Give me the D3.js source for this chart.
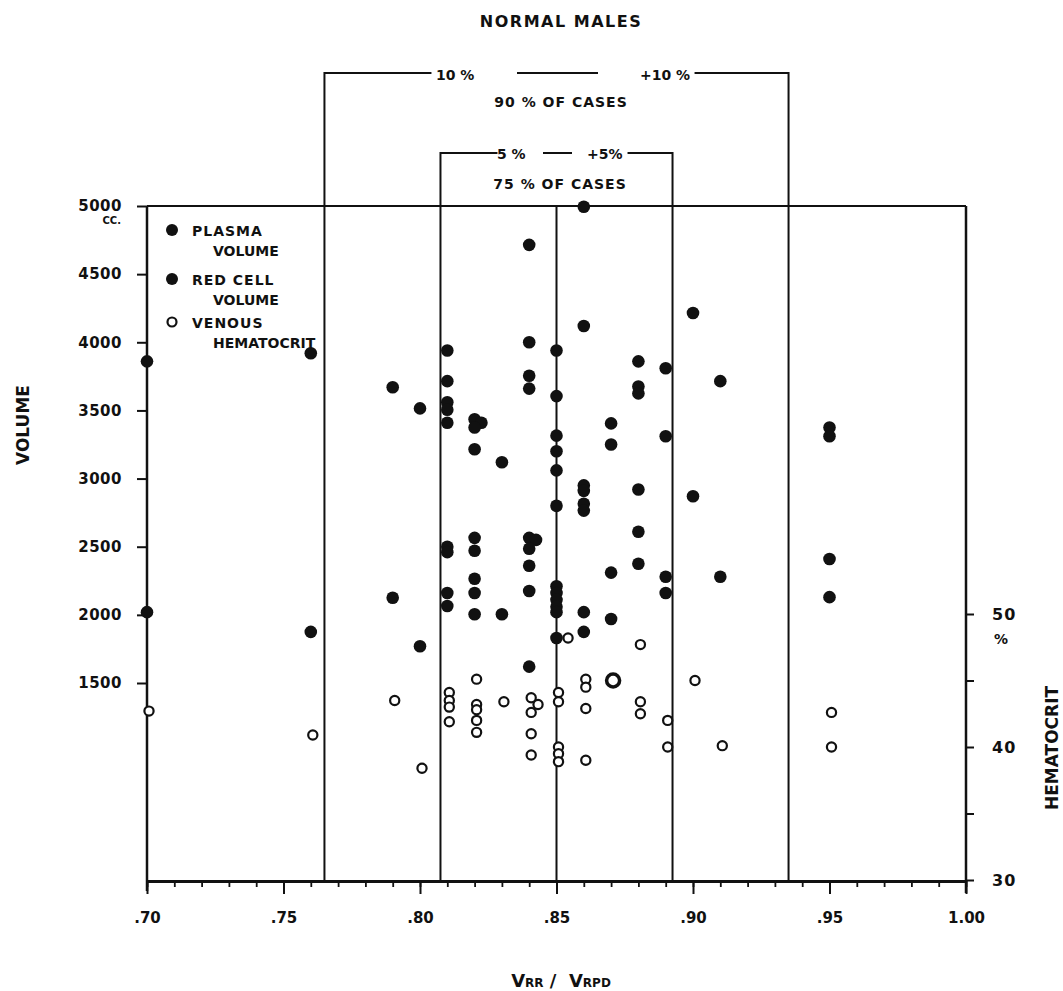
<!DOCTYPE html>
<html>
<head>
<meta charset="utf-8">
<script src="https://cdn.jsdelivr.net/npm/d3@7"></script>
<style>
  body { margin: 0; background: #fff; }
  text { font-family: "DejaVu Sans", sans-serif; font-weight: bold; fill: #111; }
</style>
</head>
<body>
<div id="container"></div>
<script>
var width = 1063;
var height = 991;

// x = Vrr / Vrpd ratio, y = volume (cc) or hematocrit (%)
var plasmaVolume = [
  [.70, 3860], [.76, 3920], [.79, 3670], [.80, 3515],
  [.81, 3940], [.81, 3715], [.81, 3560], [.81, 3505], [.81, 3410],
  [.82, 3435], [.8225, 3410], [.82, 3375], [.82, 3215],
  [.83, 3120],
  [.84, 4715], [.84, 4000], [.84, 3755], [.84, 3660],
  [.85, 3940], [.85, 3605], [.85, 3315], [.85, 3200], [.85, 3060], [.85, 2800],
  [.86, 4995], [.86, 4120], [.86, 2950], [.86, 2910], [.86, 2815], [.86, 2765],
  [.87, 3405], [.87, 3250],
  [.88, 3860], [.88, 3675], [.88, 3625], [.88, 2920],
  [.89, 3810], [.89, 3310],
  [.90, 4215], [.90, 2870],
  [.91, 3715],
  [.95, 3375], [.95, 3310]
];

var redCellVolume = [
  [.70, 2020], [.76, 1875], [.79, 2125], [.80, 1770],
  [.81, 2500], [.81, 2460], [.81, 2160], [.81, 2065],
  [.82, 2565], [.82, 2470], [.82, 2265], [.82, 2160], [.82, 2005],
  [.83, 2005],
  [.84, 2565], [.8425, 2550], [.84, 2485], [.84, 2360], [.84, 2175], [.84, 1620],
  [.85, 2210], [.85, 2160], [.85, 2110], [.85, 2060], [.85, 2020], [.85, 1830],
  [.86, 2020], [.86, 1875],
  [.87, 2310], [.87, 1970],
  [.88, 2610], [.88, 2375],
  [.89, 2280], [.89, 2160],
  [.91, 2280],
  [.95, 2410], [.95, 2130]
];

var hematocrit = [
  [.70, 42.7], [.76, 40.9], [.79, 43.5], [.80, 38.4],
  [.81, 44.1], [.81, 43.5], [.81, 43.0], [.81, 41.9],
  [.82, 45.1], [.82, 43.2], [.82, 42.8], [.82, 42.0], [.82, 41.1],
  [.83, 43.4],
  [.84, 43.7], [.8425, 43.2], [.84, 42.6], [.84, 41.0], [.84, 39.4],
  [.8535, 48.2], [.85, 44.1], [.85, 43.4], [.85, 40.0], [.85, 39.5], [.85, 38.9],
  [.86, 45.1], [.86, 44.5], [.86, 42.9], [.86, 39.0],
  [.87, 45.0], [.87, 45.0],
  [.88, 47.7], [.88, 43.4], [.88, 42.5],
  [.89, 42.0], [.89, 40.0],
  [.90, 45.0],
  [.91, 40.1],
  [.95, 42.6], [.95, 40.0]
];

var xTicks = [.70, .75, .80, .85, .90, .95, 1.00];
var xMinorTicks = d3.range(70, 101).map(function(d) { return d / 100; });
var volumeTicks = [1500, 2000, 2500, 3000, 3500, 4000, 4500, 5000];
var hctTicks = [30, 35, 40, 45, 50];
var hctLabels = [30, 40, 50];

// ranges of cases around the .85 mean
var center = .85;
var bands = [
  {lo: .765, hi: .935, top: 73, stubL: 107, stubR: 94},
  {lo: .8075, hi: .8925, top: 153, stubL: 57, stubR: 45}
];

var svg = d3.select("div#container").append("svg")
    .attr("width", width)
    .attr("height", height);

var x = d3.scaleLinear().domain([.70, 1.00]).range([147, 966]);
var yVol = d3.scaleLinear().domain([1500, 5000]).range([683, 206]);
var yHct = d3.scaleLinear().domain([30, 50]).range([880, 614]);
var plotBottom = 881;
var plotTop = yVol(5000);

// frame lines
svg.append("line").attr("x1", x(.70)).attr("x2", x(1.00)).attr("y1", plotTop).attr("y2", plotTop)
    .attr("stroke", "#111").attr("stroke-width", 2.2);
svg.append("line").attr("x1", x(.70)).attr("x2", x(.70)).attr("y1", plotTop).attr("y2", plotBottom + 10)
    .attr("stroke", "#111").attr("stroke-width", 2.5);
svg.append("line").attr("x1", x(1.00)).attr("x2", x(1.00)).attr("y1", plotTop).attr("y2", plotBottom + 12)
    .attr("stroke", "#111").attr("stroke-width", 2.5);
svg.append("line").attr("x1", x(center)).attr("x2", x(center)).attr("y1", plotTop).attr("y2", plotBottom)
    .attr("stroke", "#111").attr("stroke-width", 2);

// x axis
var xAxis = svg.append("g").attr("transform", "translate(0," + plotBottom + ")")
    .call(d3.axisBottom(x).tickValues(xTicks).tickSize(13).tickSizeOuter(0).tickPadding(18)
      .tickFormat(function(d) { return d3.format(".2f")(d).replace(/^0/, ""); }));
xAxis.select(".domain").attr("stroke", "#111").attr("stroke-width", 3);
xAxis.selectAll(".tick line").attr("stroke", "#111").attr("stroke-width", 2);
xAxis.selectAll("text").attr("font-size", 15).attr("font-family", "DejaVu Sans").attr("fill", "#111");

var xMinor = svg.append("g").attr("transform", "translate(0," + plotBottom + ")")
    .call(d3.axisBottom(x).tickValues(xMinorTicks).tickSize(6).tickFormat(""));
xMinor.select(".domain").remove();
xMinor.selectAll(".tick line").attr("stroke", "#111").attr("stroke-width", 1.8);

// volume axis
var yAxis = svg.append("g").attr("transform", "translate(" + x(.70) + ",0)")
    .call(d3.axisLeft(yVol).tickValues(volumeTicks).tickSize(10).tickPadding(15)
      .tickFormat(d3.format("d")));
yAxis.select(".domain").remove();
yAxis.selectAll(".tick line").attr("stroke", "#111").attr("stroke-width", 2);
yAxis.selectAll("text").attr("font-size", 15).attr("font-family", "DejaVu Sans").attr("fill", "#111")
    .attr("letter-spacing", 0.5);
svg.append("text").attr("x", 121).attr("y", 224).attr("text-anchor", "end")
    .attr("font-size", 10).text("CC.");

// hematocrit axis
var hAxis = svg.append("g").attr("transform", "translate(" + x(1.00) + ",0)")
    .call(d3.axisRight(yHct).tickValues(hctTicks).tickSize(8).tickPadding(18)
      .tickFormat(function(d) { return hctLabels.indexOf(d) >= 0 ? d : ""; }));
hAxis.select(".domain").remove();
hAxis.selectAll(".tick line").attr("stroke", "#111").attr("stroke-width", 2);
hAxis.selectAll("text").attr("font-size", 16).attr("font-family", "DejaVu Sans").attr("fill", "#111")
    .attr("letter-spacing", 1);
svg.append("text").attr("x", 1001).attr("y", 644).attr("text-anchor", "middle")
    .attr("font-size", 14).text("%");

// bracket lines for the ranges
bands.forEach(function(b) {
  var x0 = x(b.lo), x1 = x(b.hi);
  svg.append("path")
      .attr("d", "M" + x0 + "," + plotBottom + "V" + b.top + "H" + (x0 + b.stubL))
      .attr("fill", "none").attr("stroke", "#111").attr("stroke-width", 2);
  svg.append("path")
      .attr("d", "M" + x1 + "," + plotBottom + "V" + b.top + "H" + (x1 - b.stubR))
      .attr("fill", "none").attr("stroke", "#111").attr("stroke-width", 2);
});
// outer labels
svg.append("text").attr("x", 436).attr("y", 80).attr("font-size", 14).text("10 %");
svg.append("line").attr("x1", 517).attr("x2", 598).attr("y1", 73).attr("y2", 73)
    .attr("stroke", "#111").attr("stroke-width", 2);
svg.append("text").attr("x", 640).attr("y", 80).attr("font-size", 14).text("+10 %");
svg.append("text").attr("x", 561).attr("y", 107).attr("text-anchor", "middle")
    .attr("font-size", 14).attr("letter-spacing", 1).text("90 % OF CASES");
// inner labels
svg.append("text").attr("x", 497).attr("y", 159).attr("font-size", 14).text("5 %");
svg.append("line").attr("x1", 543).attr("x2", 572).attr("y1", 153).attr("y2", 153)
    .attr("stroke", "#111").attr("stroke-width", 2);
svg.append("text").attr("x", 587).attr("y", 159).attr("font-size", 14).text("+5%");
svg.append("text").attr("x", 560).attr("y", 189).attr("text-anchor", "middle")
    .attr("font-size", 14).attr("letter-spacing", 1).text("75 % OF CASES");

// points
svg.selectAll("circle.plasma")
    .data(plasmaVolume)
    .enter()
    .append("circle")
    .attr("class", "plasma")
    .attr("cx", function(d) { return x(d[0]); })
    .attr("cy", function(d) { return yVol(d[1]); })
    .attr("r", 6.3)
    .attr("fill", "#111");

svg.selectAll("circle.redcell")
    .data(redCellVolume)
    .enter()
    .append("circle")
    .attr("class", "redcell")
    .attr("cx", function(d) { return x(d[0]); })
    .attr("cy", function(d) { return yVol(d[1]); })
    .attr("r", 6.3)
    .attr("fill", "#111");

svg.selectAll("circle.hct")
    .data(hematocrit)
    .enter()
    .append("circle")
    .attr("class", "hct")
    .attr("cx", function(d) { return x(d[0]) + 2; })
    .attr("cy", function(d) { return yHct(d[1]); })
    .attr("r", function(d, i) { return i === 30 ? 6.5 : 4.6; })
    .attr("fill", "#fff")
    .attr("stroke", "#111")
    .attr("stroke-width", function(d, i) { return i === 30 ? 3.5 : 2.2; });

// legend
var legend = [
  {y: 230, filled: true, l1: "PLASMA", l2: "VOLUME"},
  {y: 279, filled: true, l1: "RED CELL", l2: "VOLUME"},
  {y: 322, filled: false, l1: "VENOUS", l2: "HEMATOCRIT"}
];
legend.forEach(function(d) {
  svg.append("circle").attr("cx", 172).attr("cy", d.y)
      .attr("r", d.filled ? 6 : 4.5)
      .attr("fill", d.filled ? "#111" : "#fff")
      .attr("stroke", "#111").attr("stroke-width", d.filled ? 0 : 2.2);
  svg.append("text").attr("x", 192).attr("y", d.y + 6).attr("font-size", 14)
      .attr("letter-spacing", 1).text(d.l1);
  svg.append("text").attr("x", 213).attr("y", d.y + 26).attr("font-size", 14)
      .attr("letter-spacing", 0).text(d.l2);
});

// titles
svg.append("text").attr("x", 561).attr("y", 27).attr("text-anchor", "middle")
    .attr("font-size", 16).attr("letter-spacing", 1.5).text("NORMAL MALES");

svg.append("text").attr("transform", "translate(29,425) rotate(-90)")
    .attr("text-anchor", "middle").attr("font-size", 17).text("VOLUME");

svg.append("text").attr("transform", "translate(1058,748) rotate(-90)")
    .attr("text-anchor", "middle").attr("font-size", 17).text("HEMATOCRIT");

var xt = svg.append("text").attr("x", 561).attr("y", 987).attr("text-anchor", "middle")
    .attr("font-size", 18);
xt.append("tspan").text("V");
xt.append("tspan").attr("font-size", 12).text("RR");
xt.append("tspan").attr("xml:space", "preserve").text(" /  V");
xt.append("tspan").attr("font-size", 12).text("RPD");
</script>
</body>
</html>
